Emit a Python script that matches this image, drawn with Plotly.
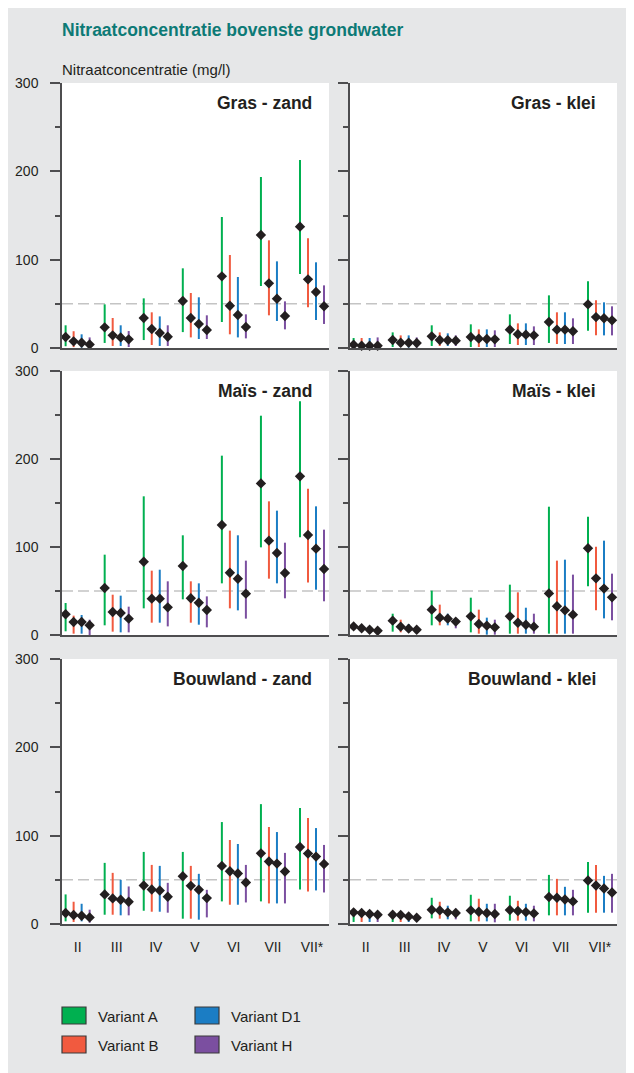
import plotly.graph_objects as go
from plotly.subplots import make_subplots

# ---------------- data ----------------
groups = ["II", "III", "IV", "V", "VI", "VII", "VII*"]
variants = ["Variant A", "Variant B", "Variant D1", "Variant H"]
panel_titles = ["Gras - zand", "Gras - klei", "Maïs - zand", "Maïs - klei",
                "Bouwland - zand", "Bouwland - klei"]

# order within each: A, B, D1, H ; values per group II..VII*
gras_zand_med = [[12.5, 23.4, 34, 53.2, 81.1, 128, 137.4],
                 [7.5, 14.3, 21.5, 34, 47.9, 73.2, 77.7],
                 [6, 12, 17, 27.2, 37.4, 55.8, 63.4],
                 [4, 9.8, 12.8, 20.4, 23.8, 36.2, 47.2]]
gras_zand_lo = [[2, 5.7, 9, 18, 29.4, 70.2, 83.8],
                [1, 2.3, 3.4, 12, 15.5, 37, 46],
                [0.5, 2.3, 2.3, 10.2, 12, 30.6, 31.7],
                [1, 1.1, 2.3, 10.2, 10.9, 21.1, 27.2]]
gras_zand_hi = [[25.7, 49.4, 56.2, 90.2, 148.3, 193.6, 212.8],
                [19, 34, 40.4, 62.3, 105.3, 121.9, 124.2],
                [15.5, 25.7, 35.8, 57.4, 80.4, 98.1, 97],
                [12, 19.2, 25.7, 37, 38.1, 52.8, 70.9]]

gras_klei_med = [[3.8, 9, 13.2, 12.5, 20.8, 29.4, 49.4],
                 [2.6, 6, 9, 10.6, 15.5, 20.8, 35],
                 [2.6, 6, 8.7, 10.2, 15.1, 20.8, 33.6],
                 [2.6, 5.7, 8.3, 9.8, 14.3, 18.9, 31.3]]
gras_klei_lo = [[0.5, 1.1, 2.3, 1.1, 4.5, 5.7, 19.6],
                [0.5, 1.1, 2.3, 1.1, 3.4, 4.5, 14.3],
                [0.5, 0.5, 2.3, 1.1, 3.4, 4.5, 14.3],
                [0.5, 0.5, 2.3, 1.1, 3.4, 4.5, 14.3]]
gras_klei_hi = [[11.3, 17.7, 25.7, 26.8, 38.1, 59.6, 75.5],
                [11.3, 14.3, 17.7, 21.1, 27.9, 40.4, 54],
                [11.3, 14.3, 16.6, 21.1, 27.9, 40.4, 51.7],
                [12, 12, 14.3, 20, 24.5, 33.6, 47.2]]

mais_zand_med = [[23.5, 53.4, 83.3, 78.4, 125, 172.3, 180.3],
                 [14.8, 26.1, 41.3, 41.7, 70.8, 107.2, 113.6],
                 [14.8, 25, 41.3, 36.7, 64, 93.2, 98.1],
                 [11, 18.6, 31.4, 28.4, 47, 70.5, 75]]
mais_zand_lo = [[4.2, 11, 30.3, 40.5, 58.7, 99.6, 111],
                [1.5, 3.8, 14, 14, 30.3, 64, 59.8],
                [1.5, 3, 14, 11.7, 28, 58.7, 51.5],
                [0, 3, 9.8, 8.7, 18.6, 41.7, 38.3]]
mais_zand_hi = [[36.4, 91.3, 157.6, 113.3, 203.8, 249.2, 265.5],
                [22, 45.8, 73.1, 61, 118.6, 151.9, 166.3],
                [22.7, 44.7, 74.2, 58.7, 113.3, 141.3, 146.2],
                [17.4, 32.2, 61, 43.9, 84.5, 104.9, 119.7]]

mais_klei_med = [[9.8, 16.3, 28.8, 21.2, 21.2, 47.3, 98.5],
                 [7.6, 9.5, 19.7, 12.5, 14, 32.6, 64.4],
                 [6, 7.2, 18.6, 10.6, 11.7, 28, 52.7],
                 [4.9, 6, 15.2, 8.7, 9.5, 23.1, 42.8]]
mais_klei_lo = [[7, 3.8, 11, 3, 1.5, 1.5, 55.3],
                [5, 3, 11, 1.5, 1.5, 1.5, 28],
                [3.5, 4.2, 11, 0.4, 1.5, 1.5, 18.9],
                [3, 3.5, 7.6, 0.4, 1.5, 1.5, 16.7]]
mais_klei_hi = [[12.9, 24.2, 50.4, 42.4, 57.2, 145.8, 134.5],
                [10, 17.4, 34.5, 28.8, 48.5, 84.5, 100.4],
                [8.5, 12.5, 24.2, 19.7, 31, 85.6, 107.2],
                [7, 8.5, 19.3, 17.4, 24.2, 68.6, 69.7]]

bouwland_zand_med = [[12.4, 33.5, 43.6, 54.1, 65.8, 80, 87.2],
                     [10.2, 29, 39.1, 43.2, 59.8, 70.7, 79.7],
                     [9.4, 27.4, 38, 38.7, 57.1, 68.4, 76.3],
                     [7.5, 25.2, 30.8, 29.3, 47, 59.4, 68]]
bouwland_zand_lo = [[3, 10.5, 15, 6, 25.6, 25.6, 39.1],
                    [2.3, 10.5, 13.9, 6, 21.8, 23.3, 36.8],
                    [3, 9.8, 13.9, 4.9, 21.8, 23.3, 38],
                    [1.5, 9.8, 12.8, 7.5, 24.4, 23.3, 35.7]]
bouwland_zand_hi = [[33.5, 69.2, 81.6, 81.6, 115.4, 135.7, 131.2],
                    [25.2, 57.9, 66.9, 65.8, 95.1, 109.8, 119.9],
                    [22.9, 50, 65.8, 56.8, 90.6, 104.1, 108.6],
                    [16.2, 42.5, 46.6, 38.7, 66.9, 80.5, 89.5]]

bouwland_klei_med = [[13.2, 10.5, 16.2, 15.4, 15.8, 30.5, 49.2],
                     [12.4, 10.2, 15.4, 13.9, 14.7, 29.7, 43.6],
                     [11.3, 8.6, 13.2, 12.4, 13.5, 27.8, 40.2],
                     [10.5, 7.1, 12.4, 11.3, 12, 25.6, 35.7]]
bouwland_klei_lo = [[2.3, 2.3, 6.4, 3, 3.8, 9.8, 12.8],
                    [2.3, 2.3, 6, 3, 3.8, 9.8, 12.8],
                    [2.3, 2.3, 5.3, 3, 3.8, 9.8, 12.8],
                    [2.3, 3.8, 5.3, 1.9, 3, 9.8, 12.8]]
bouwland_klei_hi = [[15.4, 13, 29.7, 33.1, 32, 55.6, 70.3],
                    [15.4, 13, 25.2, 28.6, 26.3, 51.1, 66.9],
                    [14.3, 11.5, 20.7, 22.9, 22.9, 42.1, 54.5],
                    [14.3, 9.8, 17.3, 22.9, 20.7, 38.7, 56.8]]

norm_value = 50  # nitrate standard (mg/l)

# ---------------- styling ----------------
FONT = "Liberation Sans, Arial, Helvetica, sans-serif"
DARK = "#231f20"
AXIS = "#4d4d4f"
BG = "#e6e7e8"
colors = ["#00b050", "#f15a3f", "#1b7dc4", "#7b4fa0"]
offsets = [-0.3075, -0.1025, 0.1025, 0.3075]

# page body margin (8px) shifts the figure; work in page pixels
OX, OY = 8, 8
W, H = 634 - OX, 1073 - OY


def px(x):
    return (x - OX) / W


def py(y):
    return 1 - (y - OY) / H


panels = [
    (gras_zand_med, gras_zand_lo, gras_zand_hi),
    (gras_klei_med, gras_klei_lo, gras_klei_hi),
    (mais_zand_med, mais_zand_lo, mais_zand_hi),
    (mais_klei_med, mais_klei_lo, mais_klei_hi),
    (bouwland_zand_med, bouwland_zand_lo, bouwland_zand_hi),
    (bouwland_klei_med, bouwland_klei_lo, bouwland_klei_hi),
]

fig = make_subplots(rows=3, cols=2)

col_px = [(62, 329), (350, 617)]
row_px = [(83, 348), (371, 635), (659, 924)]

for p, (med, lo, hi) in enumerate(panels):
    r, c = p // 2 + 1, p % 2 + 1
    for v in range(len(variants)):
        xs, ys = [], []
        for g in range(len(groups)):
            xs += [g + offsets[v], g + offsets[v], None]
            ys += [lo[v][g], hi[v][g], None]
        fig.add_trace(go.Scatter(x=xs, y=ys, mode="lines",
                                 line=dict(color=colors[v], width=2),
                                 showlegend=False, hoverinfo="skip"),
                      row=r, col=c)
    for v in range(len(variants)):
        fig.add_trace(go.Scatter(x=[g + offsets[v] for g in range(len(groups))],
                                 y=med[v], mode="markers",
                                 marker=dict(symbol="diamond", size=8, color=DARK,
                                             line=dict(width=0)),
                                 cliponaxis=False, showlegend=False,
                                 name=variants[v]),
                      row=r, col=c)

for p in range(6):
    r, c = p // 2, p % 2
    n = "" if p == 0 else str(p + 1)
    x0, x1 = col_px[c]
    yt, yb = row_px[r]
    fig.layout["xaxis" + n].update(
        domain=[px(x0), px(x1)], range=[-0.40, 6.435], automargin=False,
        tickmode="array", tickvals=list(range(len(groups))),
        ticktext=groups, showticklabels=(r == 2),
        ticks="", ticklabelstandoff=9,
        showline=True, linecolor=AXIS, linewidth=1.5,
        showgrid=False, zeroline=False,
        tickfont=dict(family=FONT, size=14, color=DARK))
    fig.layout["yaxis" + n].update(
        domain=[py(yb), py(yt)], range=[0, 300], automargin=False,
        tickmode="linear", tick0=0, dtick=100,
        showticklabels=(c == 0), ticks="outside", ticklen=10,
        tickcolor=AXIS, tickwidth=1.5, ticklabelstandoff=9,
        minor=dict(dtick=50, tick0=0, ticks="outside", ticklen=5,
                   tickcolor=AXIS, tickwidth=1.5),
        showline=True, linecolor=AXIS, linewidth=1.5,
        showgrid=False, zeroline=False,
        tickfont=dict(family=FONT, size=14, color=DARK))
    # 50 mg/l norm line
    fig.add_shape(type="line", xref=f"x{n} domain", yref=f"y{n}",
                  x0=0, x1=1, y0=norm_value, y1=norm_value, layer="below",
                  line=dict(color="#c4c4c4", width=1.5, dash="11px,5px"))
    fig.add_annotation(text="<b>" + panel_titles[p] + "</b>",
                       xref=f"x{n} domain", yref=f"y{n} domain",
                       x=(314 - x0) / (x1 - x0) if c == 0 else (598 - x0) / (x1 - x0),
                       y=1 - 20 / (yb - yt), xanchor="right", yanchor="middle",
                       showarrow=False,
                       font=dict(family=FONT, size=17.5, color=DARK))

# title & axis label
fig.add_annotation(text="<b>Nitraatconcentratie bovenste grondwater</b>",
                   xref="paper", yref="paper", x=px(60), y=py(30),
                   xanchor="left", yanchor="middle", showarrow=False,
                   font=dict(family=FONT, size=17.5, color="#0d7a76"))
fig.add_annotation(text="Nitraatconcentratie (mg/l)",
                   xref="paper", yref="paper", x=px(60), y=py(70),
                   xanchor="left", yanchor="middle", showarrow=False,
                   font=dict(family=FONT, size=15, color=DARK))

# legend (manual, 2 columns)
leg_pos = [(62, 1007), (62, 1036), (195, 1007), (195, 1036)]
for v, (lx, ly) in enumerate(leg_pos):
    fig.add_shape(type="rect", xref="paper", yref="paper",
                  x0=px(lx), x1=px(lx + 24), y0=py(ly + 17), y1=py(ly),
                  fillcolor=colors[v], line=dict(color="#3a3a3a", width=1.2))
    fig.add_annotation(text=variants[v], xref="paper", yref="paper",
                       x=px(lx + 34), y=py(ly + 9),
                       xanchor="left", yanchor="middle", showarrow=False,
                       font=dict(family=FONT, size=15, color=DARK))

fig.update_layout(width=W, height=H, margin=dict(l=0, r=0, t=0, b=0, autoexpand=False),
                  paper_bgcolor=BG, plot_bgcolor="white", showlegend=False,
                  font=dict(family=FONT, color=DARK))

fig.write_html("out.html")
